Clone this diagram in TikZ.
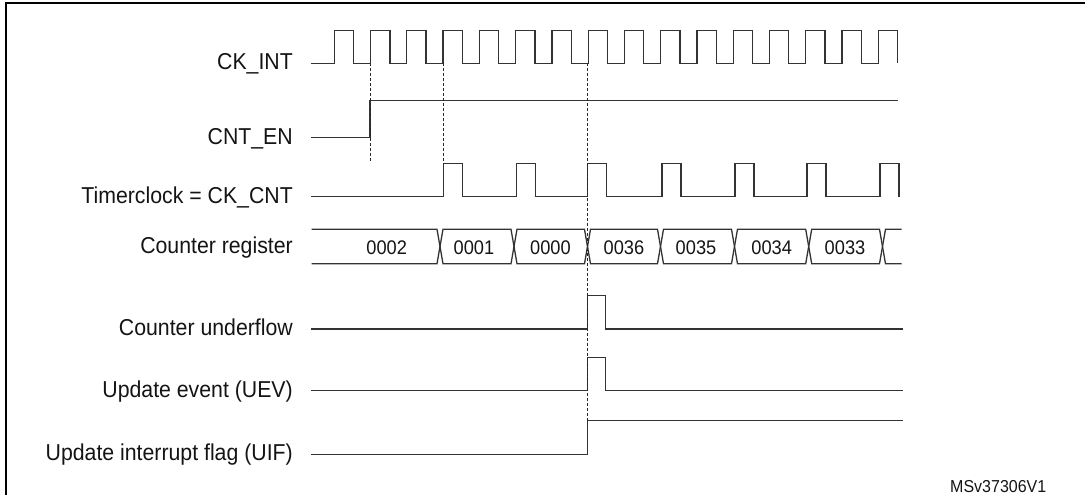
\documentclass[tikz,border=0pt]{standalone}
\usepackage{fontspec}
\setmainfont[FakeStretch=0.925]{Liberation Sans}
\begin{document}
\begin{tikzpicture}[x=1pt,y=-1pt,
  wave/.style={draw=black!80,line width=1.3pt,line join=miter},
  guide/.style={draw=black!85,line width=1pt,dash pattern=on 3pt off 2pt},
  sig/.style={anchor=base east,font=\fontsize{23}{26}\selectfont,text=black!92,inner sep=0pt},
  val/.style={anchor=base,font=\fontsize{19.7}{22}\selectfont,text=black!92,inner sep=0pt},
  frame/.style={draw=black,line width=1.8pt}]
\useasboundingbox (0,0) rectangle (1085,495);
% frame (cropped at right and bottom)
\draw[frame] (6,495) -- (6,3.3) -- (1085,3.3);

% signal labels
\node[sig] (lck)  at (293,69.8)  {CK\_INT};
\node[sig] (len)  at (293,144.2) {CNT\_EN};
\node[sig] (ltc)  at (293,203.2) {Timerclock = CK\_CNT};
\node[sig] (lcr)  at (293,253.0) {Counter register};
\node[sig] (luf)  at (293,335.5) {Counter underflow};
\node[sig] (luev) at (293,397.2) {Update event (UEV)};
\node[sig] (luif) at (293,460.8) {Update interrupt flag (UIF)};

% CK_INT
\draw[wave] (311,63.3) \foreach \k in {0,...,15} {
  -- ({334.3+36.27*\k},63.3) -- ({334.3+36.27*\k},30.7)
  -- ({353.6+36.27*\k},30.7) -- ({353.6+36.27*\k},63.3) };

% CNT_EN
\draw[wave] (311,137.7) -- (370,137.7) -- (370,100.7) -- (898,100.7);

% Timerclock = CK_CNT
\draw[wave] (311,196.7) \foreach \r in {443.3,516.2,587.5,662,735,807,880} {
  -- (\r,196.7) -- (\r,163.3) -- ({\r+19},163.3) -- ({\r+19},196.7) };

% Counter register
\def\ct{229.3}\def\cb{263.7}\def\cm{246.5}\def\cw{3}
\draw[wave] (311.7,\ct) -- (437,\ct) -- (440,\cm) -- (437,\cb) -- (311.7,\cb);
\foreach \a/\b in {440/514,514/587.5,587.5/660.5,660.5/734.5,734.5/808.7,808.7/882.5} {
  \draw[wave] ({\a+\cw},\ct) -- ({\b-\cw},\ct) -- (\b,\cm) -- ({\b-\cw},\cb)
    -- ({\a+\cw},\cb) -- (\a,\cm) -- cycle; }
\draw[wave] (901.7,\ct) -- (885.5,\ct) -- (882.5,\cm) -- (885.5,\cb) -- (901.7,\cb);
\node[val] (v0) at (386.7,254.5) {0002};
\node[val] (v1) at (474,254.5) {0001};
\node[val] (v2) at (550.5,254.5) {0000};
\node[val] (v3) at (624,254.5) {0036};
\node[val] (v4) at (696,254.5) {0035};
\node[val] (v5) at (771.7,254.5) {0034};
\node[val] (v6) at (845,254.5) {0033};

% Counter underflow
\draw[wave] (311,329) -- (587.5,329) -- (587.5,295.7) -- (605.5,295.7) -- (605.5,329) -- (903,329);
% Update event
\draw[wave] (311,390.7) -- (587.5,390.7) -- (587.5,357.3) -- (605.5,357.3) -- (605.5,390.7) -- (903,390.7);
% Update interrupt flag
\draw[wave] (311,454.3) -- (587.5,454.3) -- (587.5,420.7) -- (903,420.7);

% dashed guides
\draw[guide] (370,63.3) -- (370,161.7);
\draw[guide] (443.3,63.3) -- (443.3,163.3);
\draw[guide] (587.5,63.3) -- (587.5,420.7);

\node[anchor=base west,font=\fontsize{17.3}{20}\selectfont,text=black!92,inner sep=0pt] (ref) at (950,492.5) {MSv37306V1};
\end{tikzpicture}
\end{document}
